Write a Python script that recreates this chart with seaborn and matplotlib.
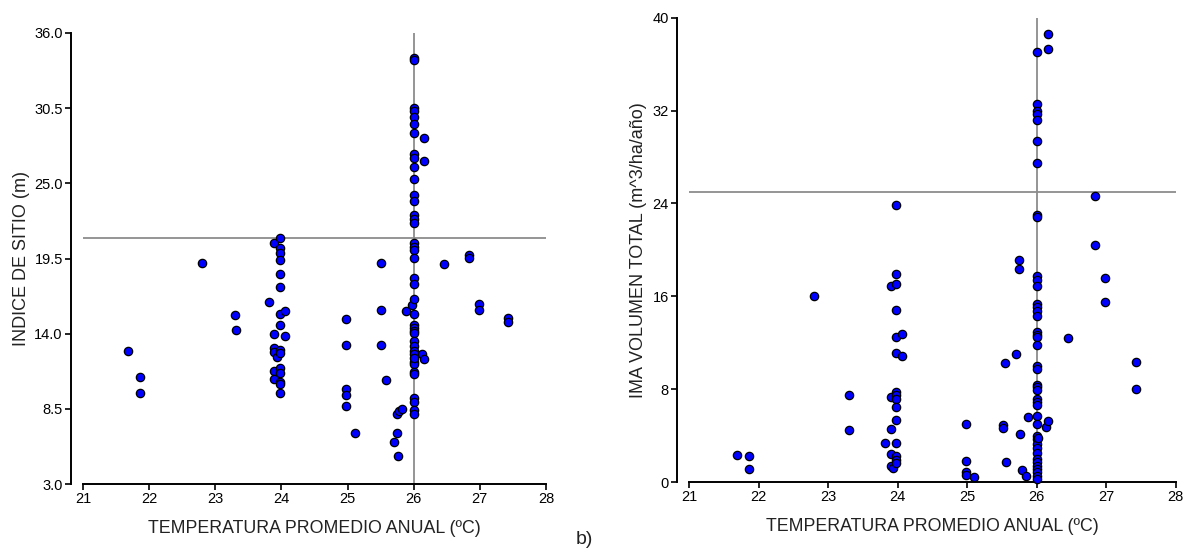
import numpy as np
import pandas as pd
import matplotlib
matplotlib.use("Agg")
import matplotlib.pyplot as plt
import seaborn as sns

# ---------------- data ----------------
left_temp = (
    [21.68, 21.86, 21.86, 22.80, 23.30, 23.32, 23.81]
    + [23.89] * 6 + [23.94] + [23.98] * 15 + [24.05] * 2
    + [24.98] * 5 + [25.11] + [25.51] * 3 + [25.58, 25.70, 25.74, 25.74, 25.76, 25.78, 25.82, 25.88, 25.97]
    + [26.0] * 40 + [26.01, 26.13, 26.16, 26.16, 26.16, 26.46, 26.84, 26.84, 26.98, 26.98, 27.43, 27.43]
)
left_site = (
    [12.76, 10.86, 9.69, 19.2, 15.35, 14.25, 16.32]
    + [20.6, 13.96, 12.98, 12.69, 11.27, 10.69] + [12.28]
    + [21.0, 20.3, 19.9, 19.4, 18.4, 17.44, 15.47, 14.61, 12.79, 12.57, 11.47, 11.15, 10.47, 10.30, 9.69]
    + [15.64, 13.86]
    + [15.06, 13.18, 9.98, 9.49, 8.71] + [6.74] + [19.2, 15.74, 13.18]
    + [10.59, 6.10, 6.74, 8.11, 5.03, 8.37, 8.52, 15.64, 16.10]
    + [34.19, 34.00, 30.54, 30.29, 29.88, 29.34, 28.66, 27.15, 26.86, 26.18,
       25.32, 24.17, 23.69, 22.69, 22.39, 22.08, 20.62, 20.37, 20.13, 19.52,
       18.05, 17.62, 16.54, 15.44, 14.64, 14.40, 14.22, 14.03, 13.47, 13.12,
       12.74, 12.52, 11.96, 11.76, 11.22, 11.03, 9.27, 9.00, 8.42, 8.11]
    + [12.25, 12.49, 12.17, 28.34, 26.64, 19.1, 19.74, 19.52, 16.15, 15.74, 15.18, 14.88]
)

right_temp = (
    [21.69, 21.86, 21.86, 22.80, 23.30, 23.30, 23.82]
    + [23.90] * 5 + [23.94] + [23.98] * 15 + [24.06] * 2
    + [24.98] * 4 + [25.10, 25.52, 25.52, 25.54, 25.56, 25.70, 25.74, 25.74, 25.76, 25.79, 25.84, 25.88]
    + [26.0] * 42 + [26.02, 26.14, 26.17, 26.16, 26.16, 26.45, 26.84, 26.84, 26.98, 26.98, 27.43, 27.43]
)
right_ima = (
    [2.33, 2.21, 1.12, 16.03, 7.50, 4.48, 3.39]
    + [16.9, 7.36, 4.54, 2.41, 1.41] + [1.23]
    + [23.88, 17.93, 17.1, 14.83, 12.53, 11.09, 7.78, 7.5, 7.13, 6.44, 5.34, 3.39, 2.24, 1.90, 1.61]
    + [12.76, 10.86]
    + [4.97, 1.84, 0.89, 0.6] + [0.41, 4.91, 4.63, 10.29, 1.75, 11.0, 19.16, 18.33, 4.11, 1.03, 0.54, 5.58]
    + [37.04, 32.59, 31.93, 31.72, 31.18, 29.37, 27.44, 23.02, 22.79, 17.76,
       17.41, 16.9, 15.34, 15.06, 14.77, 14.31, 12.96, 12.67, 12.47, 11.81,
       10.0, 9.71, 8.36, 8.16, 7.93, 7.16, 6.92, 6.61, 5.72, 4.97,
       3.99, 3.68, 3.28, 2.9, 2.47, 1.96, 1.70, 1.41, 1.12, 0.84, 0.54, 0.3]
    + [3.76, 4.71, 5.26, 38.6, 37.3, 12.39, 24.68, 20.46, 17.56, 15.54, 10.37, 7.99]
)

x_ticks = [21, 22, 23, 24, 25, 26, 27, 28]
left_yticks = [3.0, 8.5, 14.0, 19.5, 25.0, 30.5, 36.0]
right_yticks = [0, 8, 16, 24, 32, 40]
left_hline = 21.0
right_hline = 25.0
vline_temp = 26.0

x_label = "TEMPERATURA PROMEDIO ANUAL (ºC)"
left_ylabel = "INDICE DE SITIO (m)"
right_ylabel = "IMA VOLUMEN TOTAL (m^3/ha/año)"

# ---------------- styling ----------------
sns.set_style("ticks")
plt.rcParams['font.family'] = ['Liberation Sans', 'DejaVu Sans']
plt.rcParams['xtick.direction'] = 'out'
plt.rcParams['ytick.direction'] = 'out'

W, H = 1183, 560
fig = plt.figure(figsize=(W / 100, H / 100), dpi=100)

axL = fig.add_axes([83 / W, (H - 484) / H, 463 / W, 451 / H])
axR = fig.add_axes([689 / W, (H - 482) / H, 486.7 / W, 464.3 / H])

dfL = pd.DataFrame({"temp": left_temp, "val": left_site})
dfR = pd.DataFrame({"temp": right_temp, "val": right_ima})

panels = [
    (axL, dfL, left_yticks, (3.0, 36.0), left_hline, left_ylabel, "{:.1f}", 3),
    (axR, dfR, right_yticks, (0, 40), right_hline, right_ylabel, "{:.0f}", 4),
]

for ax, df, yt, ylim, hl, ylab, fmt, lpad in panels:
    ax.axhline(hl, color="#8c8c8c", lw=1.3, zorder=1)
    ax.axvline(vline_temp, color="#8c8c8c", lw=1.3, zorder=1)
    sns.scatterplot(data=df, x="temp", y="val", ax=ax, color="#0000ff",
                    edgecolor="black", linewidth=0.9, s=36, zorder=3,
                    clip_on=False)
    ax.set_xlim(21, 28)
    ax.set_ylim(*ylim)
    ax.set_xticks(x_ticks)
    ax.set_xticklabels([str(t) for t in x_ticks])
    ax.set_yticks(yt)
    ax.set_yticklabels([fmt.format(t) for t in yt])
    ax.tick_params(axis="both", labelsize=10.5, length=4, width=1.2,
                   color="black", labelcolor="black", pad=1.5)
    for side in ["top", "right"]:
        ax.spines[side].set_visible(False)
    for side in ["left", "bottom"]:
        ax.spines[side].set_linewidth(1.4)
        ax.spines[side].set_color("black")
    ax.spines["left"].set_position(("outward", 9))
    ax.set_xlabel(x_label, fontsize=12.8, color="#222222", labelpad=10)
    ax.set_ylabel(ylab, fontsize=13, color="#222222", labelpad=lpad)
    ax.set_facecolor("white")

fig.text(0.4865, 0.022, "b)", fontsize=14, color="#222222", ha="left", va="bottom")

fig.savefig("out.png", dpi=100, facecolor="white")
